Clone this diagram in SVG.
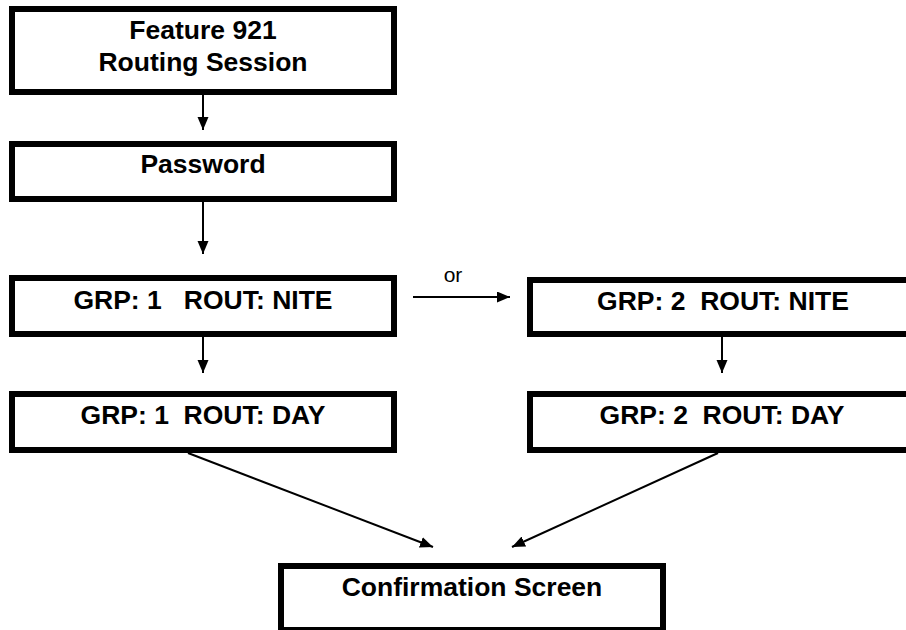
<svg xmlns="http://www.w3.org/2000/svg" width="906" height="630" viewBox="0 0 906 630">
<style>
.box{fill:#fff;stroke:#000;stroke-width:6}
.t{font-family:"Liberation Sans",Arial,sans-serif;font-weight:bold;font-size:26.5px;fill:#000;text-anchor:middle}
.lbl{font-family:"Liberation Sans",Arial,sans-serif;font-size:21px;fill:#000;text-anchor:middle}
.c{stroke:#000;stroke-width:2;fill:none;marker-end:url(#ah)}
</style>
<defs>
<marker id="ah" markerUnits="userSpaceOnUse" markerWidth="14" markerHeight="12" refX="13" refY="5.5" orient="auto">
<path d="M0,0 L13,5.5 L0,11 z" fill="#000"/>
</marker>
</defs>
<rect width="906" height="630" fill="#fff"/>
<g id="n1"><rect class="box" x="12" y="9" width="382" height="83"/><text class="t" x="203" y="39">Feature 921</text><text class="t" x="203" y="71">Routing Session</text></g>
<g id="n2"><rect class="box" x="12" y="144" width="382" height="55"/><text class="t" x="203" y="173">Password</text></g>
<g id="n3"><rect class="box" x="12" y="278" width="382" height="56"/><text class="t" x="203" y="309" xml:space="preserve">GRP: 1   ROUT: NITE</text></g>
<g id="n4"><rect class="box" x="530" y="280" width="383" height="54"/><text class="t" x="723" y="310" xml:space="preserve">GRP: 2  ROUT: NITE</text></g>
<g id="n5"><rect class="box" x="12" y="394" width="382" height="56"/><text class="t" x="203" y="424" xml:space="preserve">GRP: 1  ROUT: DAY</text></g>
<g id="n6"><rect class="box" x="530" y="394" width="383" height="56"/><text class="t" x="722" y="424" xml:space="preserve">GRP: 2  ROUT: DAY</text></g>
<g id="n7"><rect class="box" x="281" y="566" width="382" height="64"/><text class="t" x="472" y="596">Confirmation Screen</text></g>
<g id="connectors">
<line class="c" x1="203" y1="95" x2="203" y2="130"/>
<line class="c" x1="203" y1="202" x2="203" y2="254"/>
<line class="c" x1="413" y1="297" x2="510" y2="297"/>
<text class="lbl" x="453" y="282">or</text>
<line class="c" x1="203" y1="337" x2="203" y2="373"/>
<line class="c" x1="722" y1="337" x2="722" y2="373"/>
<line class="c" x1="188" y1="453" x2="433" y2="547"/>
<line class="c" x1="718" y1="453" x2="512" y2="547"/>
</g>
</svg>
